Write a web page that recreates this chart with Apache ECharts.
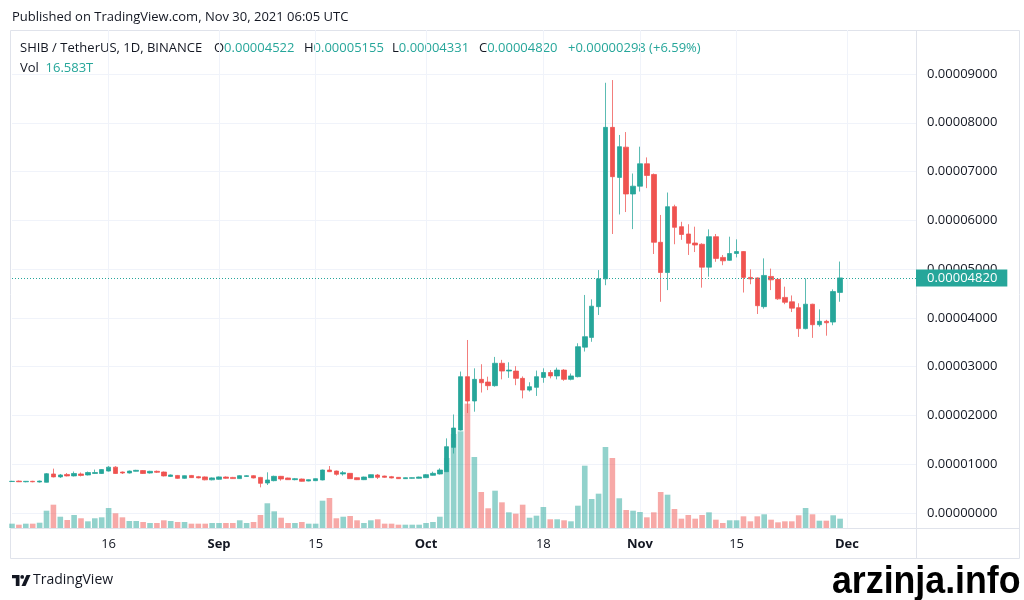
<!DOCTYPE html>
<html><head><meta charset="utf-8">
<script src="https://cdn.jsdelivr.net/npm/echarts@6/dist/echarts.min.js"></script>
<style>html,body{margin:0;padding:0;background:#fff}#c{width:1024px;height:600px}</style>
</head><body><div id="c"></div>
<script>
// ---- data (SHIB/USDT daily, Aug 2 2021 -> Nov 30 2021) ----
const startDate = '2021-08-02';
const dayCount = 132; // axis runs past the last candle (to Dec 11)
const opens = [0.645e-5,0.655e-5,0.640e-5,0.650e-5,0.635e-5,0.630e-5,0.800e-5,0.740e-5,0.790e-5,0.760e-5,
0.800e-5,0.780e-5,0.810e-5,0.810e-5,0.860e-5,0.940e-5,0.840e-5,0.820e-5,0.855e-5,0.870e-5,
0.820e-5,0.855e-5,0.840e-5,0.750e-5,0.770e-5,0.710e-5,0.770e-5,0.745e-5,0.740e-5,0.680e-5,
0.690e-5,0.738e-5,0.730e-5,0.705e-5,0.748e-5,0.765e-5,0.730e-5,0.615e-5,0.663e-5,0.752e-5,
0.718e-5,0.683e-5,0.697e-5,0.656e-5,0.663e-5,0.677e-5,0.881e-5,0.861e-5,0.800e-5,0.813e-5,
0.724e-5,0.683e-5,0.724e-5,0.779e-5,0.758e-5,0.745e-5,0.731e-5,0.704e-5,0.711e-5,0.711e-5,
0.724e-5,0.772e-5,0.800e-5,0.847e-5,1.346e-5,1.700e-5,2.795e-5,2.296e-5,2.740e-5,2.685e-5,
2.610e-5,3.070e-5,2.910e-5,2.910e-5,2.760e-5,2.520e-5,2.576e-5,2.780e-5,2.880e-5,2.810e-5,
2.930e-5,2.740e-5,2.795e-5,3.400e-5,3.600e-5,4.230e-5,4.800e-5,7.906e-5,6.880e-5,7.500e-5,
6.540e-5,6.700e-5,7.160e-5,6.940e-5,5.550e-5,4.930e-5,6.280e-5,5.870e-5,5.720e-5,5.535e-5,
5.510e-5,5.040e-5,5.665e-5,5.240e-5,5.180e-5,5.320e-5,5.360e-5,4.830e-5,4.820e-5,4.230e-5,
4.850e-5,4.790e-5,4.420e-5,4.330e-5,4.210e-5,3.780e-5,4.280e-5,3.860e-5,3.930e-5,3.915e-5,
4.522e-5];
const highs = [0.660e-5,0.665e-5,0.655e-5,0.660e-5,0.665e-5,0.820e-5,0.910e-5,0.800e-5,0.820e-5,0.850e-5,
0.830e-5,0.850e-5,0.890e-5,0.900e-5,0.960e-5,0.960e-5,0.850e-5,0.870e-5,0.885e-5,0.880e-5,
0.865e-5,0.870e-5,0.850e-5,0.790e-5,0.780e-5,0.770e-5,0.780e-5,0.760e-5,0.750e-5,0.730e-5,
0.750e-5,0.750e-5,0.740e-5,0.775e-5,0.775e-5,0.775e-5,0.740e-5,0.834e-5,0.765e-5,0.760e-5,
0.725e-5,0.718e-5,0.705e-5,0.690e-5,0.710e-5,0.890e-5,0.963e-5,0.870e-5,0.861e-5,0.820e-5,
0.730e-5,0.745e-5,0.790e-5,0.800e-5,0.765e-5,0.760e-5,0.735e-5,0.730e-5,0.730e-5,0.745e-5,
0.800e-5,0.847e-5,0.916e-5,1.530e-5,2.020e-5,2.900e-5,3.547e-5,2.966e-5,3.050e-5,2.795e-5,
3.200e-5,3.140e-5,3.090e-5,3.010e-5,2.800e-5,2.680e-5,2.920e-5,2.966e-5,2.930e-5,2.980e-5,
2.950e-5,2.860e-5,3.480e-5,4.470e-5,4.380e-5,4.980e-5,8.820e-5,8.876e-5,7.750e-5,7.810e-5,
6.960e-5,7.510e-5,7.290e-5,6.960e-5,6.110e-5,6.570e-5,6.320e-5,5.970e-5,5.920e-5,5.870e-5,
5.530e-5,5.815e-5,5.720e-5,5.290e-5,5.665e-5,5.610e-5,5.370e-5,4.995e-5,4.830e-5,5.220e-5,
5.010e-5,4.800e-5,4.640e-5,4.460e-5,4.300e-5,4.810e-5,4.290e-5,4.175e-5,3.960e-5,4.585e-5,
5.155e-5];
const lows = [0.635e-5,0.635e-5,0.630e-5,0.630e-5,0.625e-5,0.625e-5,0.730e-5,0.720e-5,0.750e-5,0.750e-5,
0.750e-5,0.770e-5,0.800e-5,0.800e-5,0.850e-5,0.800e-5,0.800e-5,0.810e-5,0.850e-5,0.800e-5,
0.810e-5,0.820e-5,0.750e-5,0.740e-5,0.700e-5,0.700e-5,0.720e-5,0.710e-5,0.670e-5,0.670e-5,
0.680e-5,0.700e-5,0.700e-5,0.700e-5,0.740e-5,0.710e-5,0.526e-5,0.574e-5,0.650e-5,0.663e-5,
0.680e-5,0.670e-5,0.642e-5,0.650e-5,0.655e-5,0.670e-5,0.840e-5,0.766e-5,0.766e-5,0.700e-5,
0.675e-5,0.675e-5,0.720e-5,0.697e-5,0.720e-5,0.710e-5,0.700e-5,0.700e-5,0.705e-5,0.705e-5,
0.720e-5,0.765e-5,0.790e-5,0.840e-5,1.220e-5,1.690e-5,2.050e-5,2.077e-5,2.470e-5,2.520e-5,
2.590e-5,2.740e-5,2.770e-5,2.620e-5,2.350e-5,2.490e-5,2.400e-5,2.670e-5,2.760e-5,2.740e-5,
2.710e-5,2.720e-5,2.780e-5,3.310e-5,3.510e-5,4.060e-5,4.670e-5,5.720e-5,6.120e-5,6.170e-5,
5.820e-5,6.590e-5,6.660e-5,5.310e-5,4.330e-5,4.570e-5,5.510e-5,5.600e-5,5.290e-5,5.350e-5,
4.620e-5,4.845e-5,5.150e-5,5.080e-5,5.170e-5,5.240e-5,4.520e-5,4.690e-5,4.080e-5,4.190e-5,
4.570e-5,4.370e-5,4.280e-5,4.120e-5,3.610e-5,3.765e-5,3.590e-5,3.820e-5,3.635e-5,3.850e-5,
4.331e-5];
const closes = [0.650e-5,0.640e-5,0.650e-5,0.640e-5,0.655e-5,0.805e-5,0.740e-5,0.780e-5,0.760e-5,0.810e-5,
0.770e-5,0.830e-5,0.830e-5,0.890e-5,0.940e-5,0.810e-5,0.820e-5,0.860e-5,0.875e-5,0.810e-5,
0.855e-5,0.835e-5,0.760e-5,0.780e-5,0.710e-5,0.765e-5,0.725e-5,0.720e-5,0.680e-5,0.720e-5,
0.740e-5,0.711e-5,0.705e-5,0.765e-5,0.765e-5,0.718e-5,0.608e-5,0.677e-5,0.752e-5,0.697e-5,
0.683e-5,0.704e-5,0.649e-5,0.683e-5,0.704e-5,0.881e-5,0.847e-5,0.793e-5,0.827e-5,0.704e-5,
0.683e-5,0.738e-5,0.786e-5,0.731e-5,0.731e-5,0.718e-5,0.704e-5,0.724e-5,0.724e-5,0.738e-5,
0.786e-5,0.813e-5,0.881e-5,1.360e-5,1.742e-5,2.795e-5,2.296e-5,2.740e-5,2.670e-5,2.610e-5,
3.070e-5,2.910e-5,2.930e-5,2.760e-5,2.520e-5,2.590e-5,2.795e-5,2.880e-5,2.810e-5,2.930e-5,
2.740e-5,2.810e-5,3.410e-5,3.615e-5,4.240e-5,4.800e-5,7.906e-5,6.895e-5,7.510e-5,6.540e-5,
6.700e-5,7.160e-5,6.920e-5,5.550e-5,4.930e-5,6.280e-5,5.856e-5,5.710e-5,5.530e-5,5.494e-5,
5.040e-5,5.665e-5,5.220e-5,5.170e-5,5.320e-5,5.360e-5,4.830e-5,4.800e-5,4.250e-5,4.870e-5,
4.780e-5,4.390e-5,4.320e-5,4.200e-5,3.780e-5,4.280e-5,3.860e-5,3.930e-5,3.900e-5,4.540e-5,
4.820e-5];
// volume in trillions (T)
const volumes = [7.7,5.9,7.7,7.7,9.4,30.8,41.5,20.1,14.2,23.1,
17.3,11.9,17.3,19.0,35.6,26.2,19.0,12.5,12.5,10.7,
8.9,8.9,13.7,12.5,10.7,10.7,7.7,7.7,7.7,8.9,
8.9,8.9,8.9,13.7,8.9,10.7,23.1,44.0,29.7,18.3,
8.9,8.9,10.7,7.7,7.7,48.6,53.4,17.3,20.1,21.4,
13.7,8.9,13.7,15.5,7.7,7.7,5.9,5.9,5.9,5.9,
8.9,10.7,20.1,124.6,167.3,172.1,221.3,126.4,64.1,35.1,
66.4,45.7,27.9,25.5,41.5,18.3,21.9,37.4,15.5,15.5,
13.7,11.9,39.7,110.9,51.6,61.1,144.2,124.6,52.9,32.0,
30.8,28.5,19.0,27.9,64.1,59.3,33.8,16.6,23.1,16.6,
23.1,27.9,14.8,8.9,13.7,13.7,20.8,11.9,20.8,24.4,
14.8,10.1,11.9,11.9,22.6,35.6,24.4,13.0,13.0,22.6,
16.583];
const tickDates = ['2021-08-16','2021-09-01','2021-09-15','2021-10-01','2021-10-18','2021-11-01','2021-11-15','2021-12-01'];
const tickLabels = ['16','Sep','15','Oct','18','Nov','15','Dec'];
const lastPrice = 0.00004820;
const volMax = 356;

// ---- build ----
const dates = [];
const d0 = Date.parse(startDate + 'T00:00:00Z');
for (let i = 0; i < dayCount; i++) dates.push(new Date(d0 + i * 86400000).toISOString().slice(0, 10));

const UP = '#26a69a', DOWN = '#ef5350';
const UPV = 'rgba(38,166,154,0.5)', DOWNV = 'rgba(239,83,80,0.5)';
const candleData = opens.map((o, i) => [o, closes[i], lows[i], highs[i]]);
const volData = volumes.map((v, i) => ({ value: v, itemStyle: { color: closes[i] >= opens[i] ? UPV : DOWNV } }));
const isTick = (idx, val) => tickDates.indexOf(val) >= 0;
const FONT = '"Open Sans", Roboto, sans-serif';
const TXT = '#131722';
const FRAME = '#e0e3eb';

const chart = echarts.init(document.getElementById('c'), null, { renderer: 'canvas' });
chart.setOption({
  animation: false,
  backgroundColor: '#fff',
  textStyle: { fontFamily: FONT },
  grid: [
    { left: 12, right: 108, top: 74, bottom: 87 },
    { left: 12, right: 108, top: 328, bottom: 72 },
    { left: 12, right: 108, top: 30, bottom: 72 }
  ],
  xAxis: [
    { type: 'category', gridIndex: 0, data: dates, boundaryGap: false, show: false },
    { type: 'category', gridIndex: 1, data: dates, boundaryGap: false, show: false },
    { type: 'category', gridIndex: 2, data: dates, boundaryGap: false,
      axisLine: { show: false }, axisTick: { show: false },
      axisLabel: { interval: isTick, margin: 10, color: TXT, fontSize: 13, fontFamily: FONT,
        formatter: v => { const k = tickDates.indexOf(v); const t = tickLabels[k]; return /^\d+$/.test(t) ? t : '{b|' + t + '}'; },
        rich: { b: { fontWeight: 'bold', fontSize: 13, color: TXT, fontFamily: FONT } } },
      splitLine: { show: true, interval: isTick, lineStyle: { color: '#f0f3fa', width: 1 } } }
  ],
  yAxis: [
    { type: 'value', gridIndex: 0, position: 'right', min: 0, max: 9e-5, interval: 1e-5,
      axisLine: { show: false }, axisTick: { show: false },
      axisLabel: { margin: 11, color: TXT, fontSize: 13, fontFamily: FONT, formatter: v => v.toFixed(8) },
      splitLine: { lineStyle: { color: '#f0f3fa', width: 1 } } },
    { type: 'value', gridIndex: 1, min: 0, max: volMax, show: false },
    { type: 'value', gridIndex: 2, show: false }
  ],
  series: [
    { type: 'bar', xAxisIndex: 1, yAxisIndex: 1, data: volData, barWidth: 5.6, z: 1 },
    { type: 'candlestick', xAxisIndex: 0, yAxisIndex: 0, data: candleData, barWidth: 5, z: 3,
      itemStyle: { color: UP, color0: DOWN, borderColor: 'rgba(38,166,154,0.75)', borderColor0: 'rgba(239,83,80,0.75)', borderWidth: 1 } },
    { type: 'line', name: 'last', xAxisIndex: 0, yAxisIndex: 0, data: [], z: 5, symbol: 'none',
      markLine: { symbol: 'none', silent: true, animation: false, precision: 10,
        lineStyle: { color: UP, type: [1, 2], width: 1 },
        label: { show: true, position: 'end', distance: 0, formatter: () => lastPrice.toFixed(8),
          backgroundColor: UP, color: '#fff', fontSize: 13, fontFamily: FONT, padding: [2, 10, 2, 11] },
        data: [{ yAxis: lastPrice }] } }
  ],
  graphic: [
    { type: 'rect', shape: { x: 10.5, y: 30.5, width: 1009, height: 528 }, style: { fill: 'none', stroke: FRAME, lineWidth: 1 }, z: 0, silent: true },
    { type: 'line', shape: { x1: 916.5, y1: 30, x2: 916.5, y2: 559 }, style: { stroke: FRAME, lineWidth: 1 }, z: 0, silent: true },
    { type: 'line', shape: { x1: 10, y1: 528.5, x2: 1020, y2: 528.5 }, style: { stroke: FRAME, lineWidth: 1 }, z: 0, silent: true },
    { type: 'text', x: 12, y: 17, silent: true, style: { text: 'Published on TradingView.com, Nov 30, 2021 06:05 UTC', fill: TXT, font: '13px ' + FONT, verticalAlign: 'middle' } },
    { type: 'text', x: 20, y: 48, silent: true, style: { text: 'SHIB / TetherUS, 1D, BINANCE', fill: TXT, font: '13px ' + FONT, verticalAlign: 'middle' } },
    { type: 'text', x: 214, y: 48, silent: true, style: { text: '{k|O}{v|0.00004522}', verticalAlign: 'middle', rich: { k: { fill: TXT, font: '13px ' + FONT }, v: { fill: UP, font: '13px ' + FONT } } } },
    { type: 'text', x: 304, y: 48, silent: true, style: { text: '{k|H}{v|0.00005155}', verticalAlign: 'middle', rich: { k: { fill: TXT, font: '13px ' + FONT }, v: { fill: UP, font: '13px ' + FONT } } } },
    { type: 'text', x: 392, y: 48, silent: true, style: { text: '{k|L}{v|0.00004331}', verticalAlign: 'middle', rich: { k: { fill: TXT, font: '13px ' + FONT }, v: { fill: UP, font: '13px ' + FONT } } } },
    { type: 'text', x: 479, y: 48, silent: true, style: { text: '{k|C}{v|0.00004820}', verticalAlign: 'middle', rich: { k: { fill: TXT, font: '13px ' + FONT }, v: { fill: UP, font: '13px ' + FONT } } } },
    { type: 'text', x: 568, y: 48, silent: true, style: { text: '+0.00000298 (+6.59%)', fill: UP, font: '13px ' + FONT, verticalAlign: 'middle' } },
    { type: 'text', x: 20, y: 68, silent: true, style: { text: '{k|Vol}  {v|16.583T}', verticalAlign: 'middle', rich: { k: { fill: TXT, font: '13px ' + FONT }, v: { fill: UP, font: '13px ' + FONT } } } },
    // TradingView logo (approximate)
    { type: 'polygon', silent: true, shape: { points: [[12,575],[19.5,575],[19.5,586],[15.8,586],[15.8,578.3],[12,578.3]] }, style: { fill: '#131722' } },
    { type: 'circle', silent: true, shape: { cx: 22.2, cy: 576.9, r: 1.9 }, style: { fill: '#131722' } },
    { type: 'polygon', silent: true, shape: { points: [[26.5,575],[30.5,575],[25.5,586],[21.5,586]] }, style: { fill: '#131722' } },
    { type: 'text', x: 33, y: 580.5, silent: true, style: { text: 'TradingView', fill: TXT, font: '14px ' + FONT, verticalAlign: 'middle' } },
    { type: 'text', x: 832, y: 583, scaleX: 0.94, silent: true, style: { text: 'arzinja.info', fill: '#000', font: 'bold 38px "Liberation Sans", Arial, sans-serif', verticalAlign: 'middle' } }
  ]
});
</script></body></html>
